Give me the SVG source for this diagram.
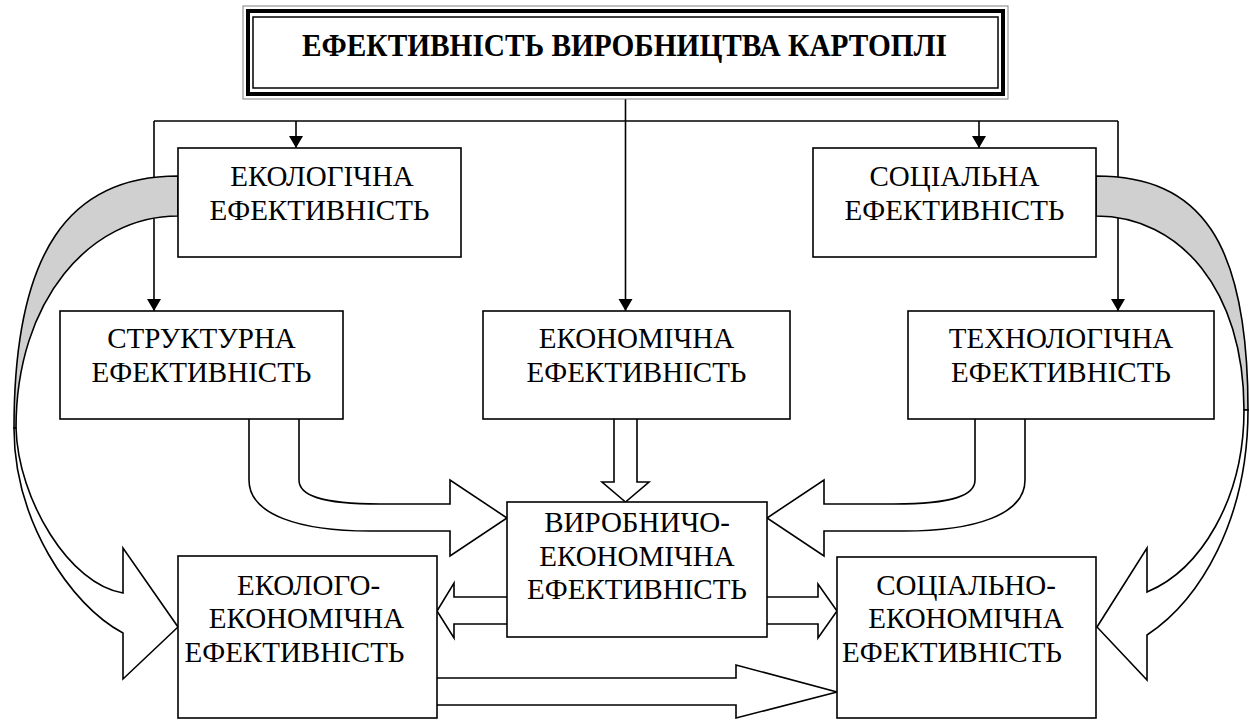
<svg xmlns="http://www.w3.org/2000/svg" width="1249" height="720" viewBox="0 0 1249 720">
<defs>
<style>
.box{fill:#fff;stroke:#000;stroke-width:1.6}
text{font-family:"Liberation Serif","DejaVu Serif","Times New Roman",serif}
.t{font-size:29px;fill:#000;text-anchor:middle}
.tt{font-size:31px;font-weight:bold;fill:#000}
.ln{fill:none;stroke:#000;stroke-width:1.6}
.blk{fill:#fff;stroke:#000;stroke-width:1.6;stroke-linejoin:miter}
.band{fill:#d0d0d0;stroke:#000;stroke-width:1.6}
</style>
<marker id="ah" viewBox="0 0 12 16" refX="12" refY="8" markerWidth="12" markerHeight="16" markerUnits="userSpaceOnUse" orient="auto">
<path d="M0,1 L12,8 L0,15 Z" fill="#000"/>
</marker>
</defs>
<rect width="1249" height="720" fill="#fff"/>

<g id="connectors">
<path class="ln" d="M625.5,99 V311" marker-end="url(#ah)"/>
<path class="ln" d="M154,121 H1118"/>
<path class="ln" d="M154,121 V311" marker-end="url(#ah)"/>
<path class="ln" d="M1118,121 V311" marker-end="url(#ah)"/>
<path class="ln" d="M296,121 V148" marker-end="url(#ah)"/>
<path class="ln" d="M979,121 V148" marker-end="url(#ah)"/>
<path class="band" d="M178,176 C70,176 14,250 14,428 L16,428 C16,300 90,216 178,216 Z"/>
<path class="blk" d="M14,428 C14,520 70,605 123,633 L123,679 L178,627 L123,548 L123,593 C70,585 18,500 16,428 Z"/>
<path class="band" d="M1096,176 C1200,176 1248,240 1248,410 L1244,410 C1244,290 1180,216 1096,216 Z"/>
<path class="blk" d="M1248,410 C1248,520 1200,600 1147,635 L1147,680 L1097,627 L1147,548 L1147,592 C1200,570 1244,500 1244,410 Z"/>
<path class="blk" d="M249,419 V480 C249,515 300,531 370,531 H450 V556 L507,518 L450,480 V504 H380 C320,504 299,495 299,480 V419"/>
<path class="blk" d="M1025,419 V480 C1025,515 974,531 904,531 H824 V556 L767,518 L824,480 V504 H894 C954,504 975,495 975,480 V419"/>
<path class="blk" d="M614,419 V482 H602 L625.5,502 L649,482 H637 V419"/>
<path class="blk" d="M507,597 H454 V583 L437,611 L454,638 V624 H507"/>
<path class="blk" d="M767,597 H818 V584 L837,611 L818,638 V624 H767"/>
<path class="blk" d="M437,678 H736 V665 L837,692 L736,718 V705 H437"/>
</g>

<g id="title">
<rect x="243" y="6" width="765" height="93" fill="#fff" stroke="#808080" stroke-width="1"/>
<rect x="248" y="11" width="755" height="83" fill="none" stroke="#000" stroke-width="4"/>
<rect x="253" y="17" width="745" height="71" fill="none" stroke="#000" stroke-width="1.5"/>
<text class="tt" x="302" y="56" textLength="645" lengthAdjust="spacingAndGlyphs">ЕФЕКТИВНІСТЬ ВИРОБНИЦТВА КАРТОПЛІ</text>
</g>

<g id="ecological">
<rect class="box" x="178" y="148" width="283" height="109"/>
<text class="t" x="322" y="185.5">ЕКОЛОГІЧНА</text>
<text class="t" x="319.5" y="219.5">ЕФЕКТИВНІСТЬ</text>
</g>

<g id="social">
<rect class="box" x="813" y="148" width="283" height="109"/>
<text class="t" x="954.5" y="185.5">СОЦІАЛЬНА</text>
<text class="t" x="954.5" y="219.5">ЕФЕКТИВНІСТЬ</text>
</g>

<g id="structural">
<rect class="box" x="60" y="311" width="283" height="108"/>
<text class="t" x="201.5" y="348">СТРУКТУРНА</text>
<text class="t" x="201.5" y="382">ЕФЕКТИВНІСТЬ</text>
</g>

<g id="economic">
<rect class="box" x="483" y="311" width="307" height="108"/>
<text class="t" x="636.5" y="348">ЕКОНОМІЧНА</text>
<text class="t" x="636.5" y="382">ЕФЕКТИВНІСТЬ</text>
</g>

<g id="technological">
<rect class="box" x="908" y="311" width="306" height="108"/>
<text class="t" x="1061" y="348">ТЕХНОЛОГІЧНА</text>
<text class="t" x="1061" y="382">ЕФЕКТИВНІСТЬ</text>
</g>

<g id="production-economic">
<rect class="box" x="507" y="502" width="260" height="135"/>
<text class="t" x="637" y="532">ВИРОБНИЧО-</text>
<text class="t" x="637" y="566">ЕКОНОМІЧНА</text>
<text class="t" x="637" y="599">ЕФЕКТИВНІСТЬ</text>
</g>

<g id="eco-economic">
<rect class="box" x="178" y="556" width="259" height="162"/>
<text class="t" x="308.5" y="595">ЕКОЛОГО-</text>
<text class="t" x="306.5" y="628">ЕКОНОМІЧНА</text>
<text class="t" x="294.5" y="662">ЕФЕКТИВНІСТЬ</text>
</g>

<g id="socio-economic">
<rect class="box" x="837" y="557" width="259" height="161"/>
<text class="t" x="966" y="595">СОЦІАЛЬНО-</text>
<text class="t" x="966" y="628">ЕКОНОМІЧНА</text>
<text class="t" x="952" y="662">ЕФЕКТИВНІСТЬ</text>
</g>
</svg>
